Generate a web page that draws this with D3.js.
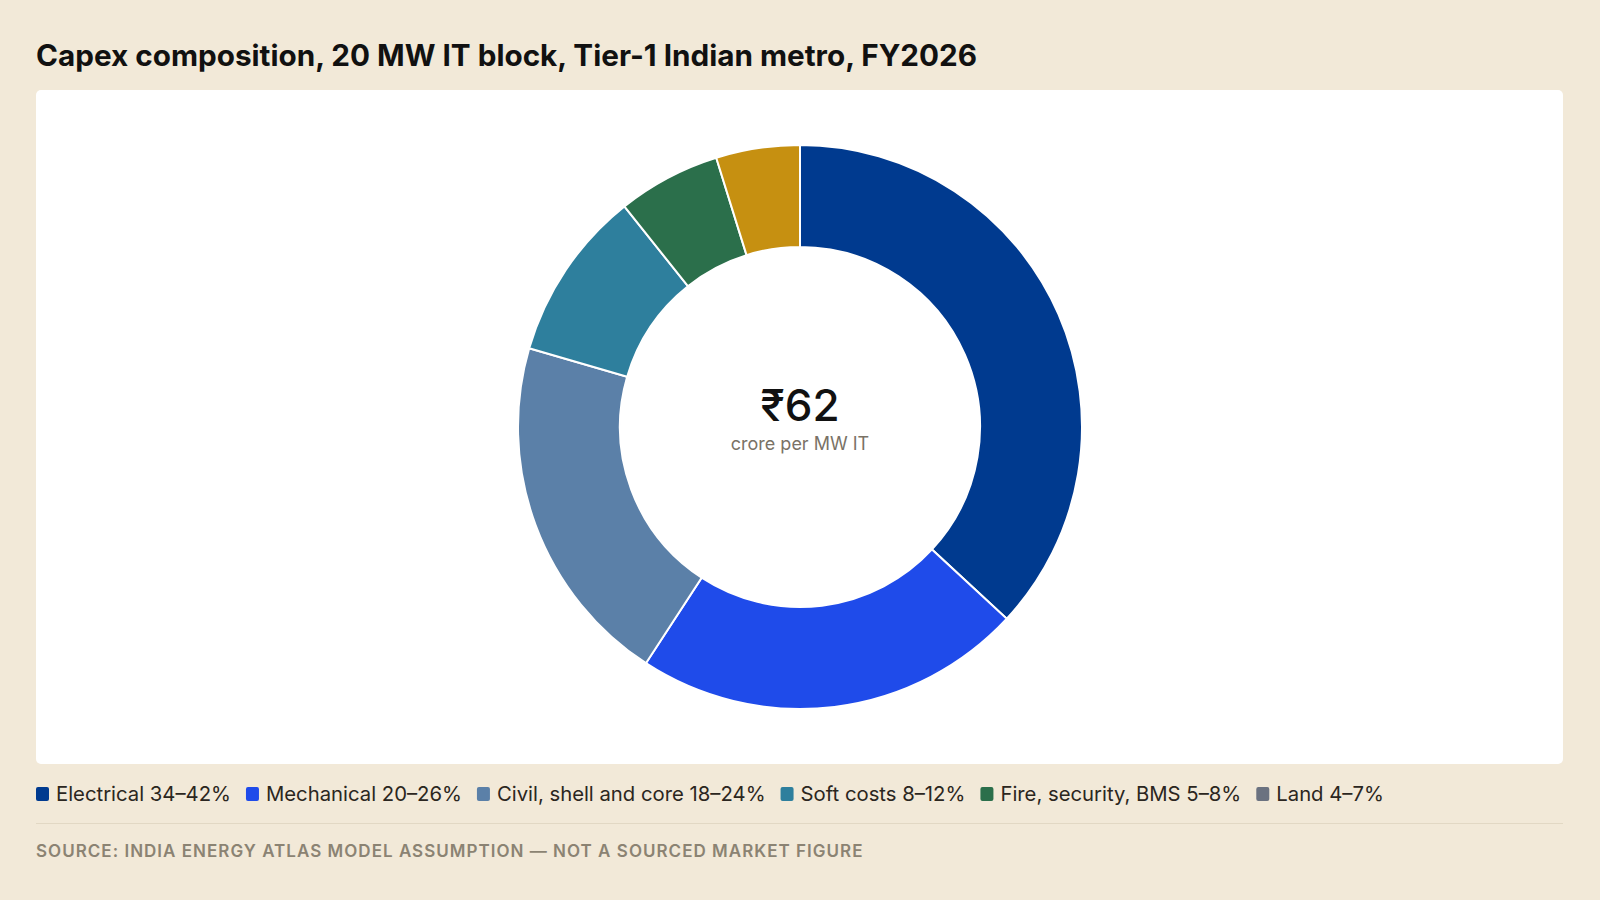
<!DOCTYPE html>
<html>
<head>
<meta charset="utf-8">
<script src="https://cdn.jsdelivr.net/npm/d3@7"></script>
<style>
  body{margin:0;background:#f2e9d8;font-family:Inter,"Noto Sans",sans-serif;}
</style>
</head>
<body>
<svg id="chart" width="1600" height="900"></svg>
<script>
// slices, in drawing order from 12 o'clock clockwise
var categories = ["Electrical","Mechanical","Civil, shell and core","Soft costs","Fire, security, BMS","Land"]
var shares = [36.9,22.3,20.3,9.8,5.9,4.8]
var ranges = ["34–42%","20–26%","18–24%","8–12%","5–8%","4–7%"]
var sliceColors = ["#003a8f","#1f4bea","#5b80a8","#2e7f9d","#2b6f4b","#c69011"]
var legendColors = ["#003a8f","#1f4bea","#5b80a8","#2e7f9d","#2b6f4b","#6b7280"]

var svg = d3.select("#chart")
var W = 1600, H = 900

svg.append("rect").attr("width",W).attr("height",H).attr("fill","#f2e9d8")

svg.append("text").text("Capex composition, 20 MW IT block, Tier-1 Indian metro, FY2026")
    .attr("x",36).attr("y",66)
    .attr("font-size",29.7).attr("font-weight",650).attr("fill","#111")

// white card
svg.append("rect").attr("x",36).attr("y",90).attr("width",1527).attr("height",674)
    .attr("rx",5).attr("fill","#fff")

var cx = 800, cy = 427
var outerR = 282, innerR = 180

var pie = d3.pie().sort(null).value(function(d){return d.v})
var arc = d3.arc().innerRadius(innerR).outerRadius(outerR)
var rows = categories.map(function(c,i){return {name:c,v:shares[i],col:sliceColors[i]}})

var g = svg.append("g").attr("transform","translate("+cx+","+cy+")")
g.selectAll(".slice")
    .data(pie(rows))
    .enter()
    .append("path")
    .attr("class","slice")
    .attr("d",arc)
    .attr("fill",function(d){return d.data.col})
    .attr("stroke","#fff")
    .attr("stroke-width",2)

g.append("text").text("₹62")
    .attr("x",0).attr("y",-6)
    .attr("text-anchor","middle")
    .attr("font-size",44).attr("font-weight",500).attr("fill","#111")
g.append("text").text("crore per MW IT")
    .attr("x",0).attr("y",23)
    .attr("text-anchor","middle")
    .attr("font-size",18).attr("fill","#7a7266")

// legend, laid out by measured text width
var legend = svg.append("g").attr("transform","translate(36,794)")
var lx = 0
categories.forEach(function(c,i){
    var item = legend.append("g").attr("transform","translate("+lx+",0)")
    item.append("rect").attr("x",0).attr("y",-7).attr("width",13).attr("height",14)
        .attr("rx",2).attr("fill",legendColors[i])
    var t = item.append("text").text(c+" "+ranges[i])
        .attr("x",20).attr("y",7)
        .attr("font-size",20.3).attr("fill","#2b2620")
    lx += 20 + t.node().getComputedTextLength() + 15
})

svg.append("line").attr("x1",36).attr("x2",1563).attr("y1",823.5).attr("y2",823.5)
    .attr("stroke","#e2d8c4").attr("stroke-width",1)

svg.append("text").text("SOURCE: INDIA ENERGY ATLAS MODEL ASSUMPTION — NOT A SOURCED MARKET FIGURE")
    .attr("x",36).attr("y",857)
    .attr("font-size",17).attr("font-weight",600).attr("letter-spacing","0.06em")
    .attr("fill","#8b8373")
</script>
</body>
</html>
